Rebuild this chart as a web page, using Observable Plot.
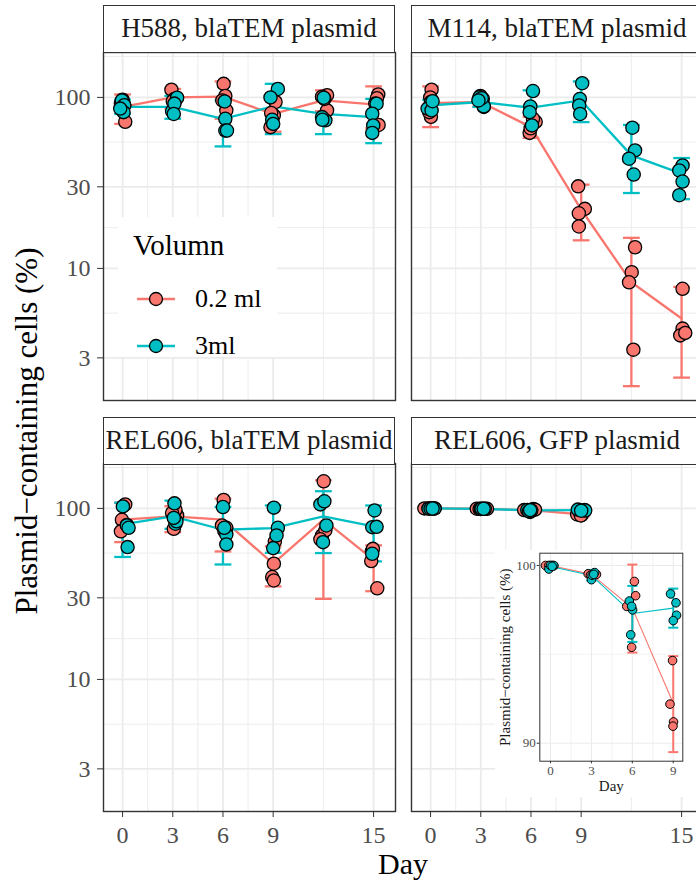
<!DOCTYPE html>
<html><head><meta charset="utf-8">
<script src="https://cdn.jsdelivr.net/npm/d3@7"></script>
<script src="https://cdn.jsdelivr.net/npm/@observablehq/plot@0.6"></script>
<style>
html,body{margin:0;padding:0;background:#fff;overflow:hidden;}
#wrap{position:relative;width:710px;height:883px;font-family:"Liberation Serif","Times New Roman",serif;overflow:hidden;}
#wrap svg{position:absolute;}
#wrap svg [aria-label="y-axis tick"], #wrap svg [aria-label="x-axis tick"]{stroke:#333;}
.strip{position:absolute;box-sizing:border-box;border:1.4px solid #333;background:#fff;color:#1a1a1a;font-size:27px;text-align:center;line-height:44px;white-space:nowrap;}
.txt{position:absolute;white-space:nowrap;color:#000;}
</style></head><body><div id="wrap"></div>
<script>
// ---------- categories & ticks ----------
const panels = ["H588, blaTEM plasmid", "M114, blaTEM plasmid", "REL606, blaTEM plasmid", "REL606, GFP plasmid"];
const volumes = ["0.2 ml", "3ml"];
const days = [0, 3, 6, 9, 12, 15];
const gfpDays = [0, 3, 6, 9];
const xTicks = [0, 3, 6, 9, 15];
const xMinor = [1.5, 4.5, 7.5, 12];
const yTicks = [3, 10, 30, 100];
const yMinor = [5.477, 17.32, 54.77, 173.2];
const insetXTicks = [0, 3, 6, 9];
const insetXMinor = [1.5, 4.5, 7.5];
const insetYTicks = [90, 100];
const insetYMinor = [95];

// ---------- replicate points: [day (as plotted, jittered), % plasmid-containing] ----------
const h588_02 = [[0.16,72],[-0.1,92],[0.0,97],[0.1,90],[2.92,111],[3.16,96],[3.1,98],[3.0,95],
  [6.04,120],[6.14,102],[6.2,84],[5.96,96],[8.84,67],[9.04,78.5],[9.14,94],[8.88,81],
  [12.22,103],[12.22,84],[12.06,98],[11.92,101],[15.28,104],[15.2,99],[15.1,92],[15.3,69]];
const h588_3 = [[-0.04,96],[0.1,90],[0.06,82],[-0.14,86],[3.26,99.6],[2.96,83],[3.1,92],[3.06,80],
  [6.1,94.7],[6.14,75],[6.14,64],[6.24,64],[9.28,112],[8.84,100],[8.94,74],[9.0,70],
  [12.02,99.6],[12.12,73.4],[11.92,76.7],[11.94,74],[15.18,91.8],[14.92,80.3],[14.98,68.6],[14.92,62]];
const m114_02 = [[0.06,111],[-0.02,100],[0.02,77],[-0.08,82],[3.12,98],[2.98,102],[3.06,95],[3.18,88],
  [5.92,62],[6.28,72],[6.12,75],[5.98,66],[8.82,30.2],[9.22,22.3],[8.86,21],[8.86,17.6],
  [12.22,13.3],[12.02,9.5],[11.86,8.3],[12.12,3.35],[15.06,7.6],[15.06,4.45],[14.92,4.06],[15.22,4.2]];
const m114_3 = [[0.02,94],[-0.18,86],[0.06,84],[0.12,95],[2.92,100.4],[3.18,88.6],[3.06,99],[2.86,96],
  [6.12,108.9],[5.96,88.6],[5.92,82],[6.06,68.6],[9.06,121],[8.92,98],[8.88,89.8],[8.94,80],
  [12.06,66.5],[12.22,49],[11.86,43.8],[12.14,35.4],[15.06,40],[14.86,37.4],[15.06,32.2],[14.86,26.8]];
const rel_02 = [[0.16,105.5],[-0.04,85.8],[-0.1,73.4],[0.26,80],[3.06,76],[3.26,91],[3.16,98],[2.96,94],
  [6.04,112],[5.94,79.5],[6.2,77],[6.08,74],[9.04,47.5],[8.94,39.7],[9.04,37.9],[9.1,64],
  [12.02,144],[11.92,69.5],[12.12,74.4],[11.82,66],[14.86,49.2],[15.22,34.1],[14.9,56],[14.96,58]];
const rel_3 = [[0.02,102.7],[0.26,79.5],[0.3,59.4],[0.36,77],[3.1,107],[3.16,81.4],[3.22,84],[3.06,88],
  [6.0,101.8],[6.2,70.4],[6.2,61.6],[6.08,77],[9.04,101],[9.28,77],[9.2,69.5],[9.0,58.6],
  [11.82,105.5],[12.06,110],[12.18,79.5],[11.98,63.5],[15.06,97.3],[14.92,77.7],[15.18,78],[14.92,54.3]];
const gfp_02 = [[-0.37,100],[0.12,100],[0.24,99.98],[-0.12,100],[2.76,99.53],[3.37,99.5],[3.17,99.55],[2.93,99.45],
  [5.59,97.7],[6.15,99.1],[6.24,98.3],[5.95,95.4],[8.76,92.2],[8.95,94.65],[9.02,91.2],[8.98,90.96]];
const gfp_3 = [[-0.12,99.8],[0.0,100],[0.24,100],[0.12,99.95],[3.0,99.2],[3.24,99.6],[3.05,99.45],[3.17,99.5],
  [5.78,98],[6.02,97.5],[5.88,96.1],[5.95,97.7],[8.8,98.4],[9.2,97.9],[9.24,97.2],[9.0,96.9]];

// ---------- summaries per day: mean, lower and upper error bar ----------
const h588_02_mean = [88, 100, 101, 80, 96, 91];
const h588_02_lo   = [70, 86, 75, 63, 83, 66];
const h588_02_hi   = [104, 112, 124, 98, 110, 116];
const h588_3_mean  = [88, 88, 75, 88.6, 80, 76.7];
const h588_3_lo    = [80, 75, 51.7, 61, 61, 54];
const h588_3_hi    = [97, 102, 96, 120, 99, 98];
const m114_02_mean = [92.6, 94, 67, 22.1, 8.3, 5.1];
const m114_02_lo   = [67, 88, 58, 14.6, 2.05, 2.3];
const m114_02_hi   = [116, 101, 77, 30.9, 15.1, 7.8];
const m114_3_mean  = [89.8, 94, 87, 96, 45.8, 35.8];
const m114_3_lo    = [83, 88, 70, 71.7, 27.6, 25.4];
const m114_3_hi    = [97, 101, 110, 124, 69, 44.2];
const rel_02_mean  = [86, 89.8, 86, 47.5, 86, 50];
const rel_02_lo    = [63.5, 72.6, 56, 35, 29.6, 32.8];
const rel_02_hi    = [108, 103, 114, 60, 146, 60.8];
const rel_3_mean   = [80.6, 89.8, 75, 76.7, 89.8, 78.4];
const rel_3_lo     = [52, 76, 47, 55, 54.8, 49];
const rel_3_hi     = [108, 111, 102, 104, 126, 104];
const gfp_02_mean  = [100, 99.5, 97.6, 92.25];
const gfp_02_lo    = [99.95, 99.4, 95.1, 89.5];
const gfp_02_hi    = [100, 99.6, 100.05, 94.9];
const gfp_3_mean   = [99.94, 99.44, 97.3, 97.6];
const gfp_3_lo     = [99.8, 99.15, 95.7, 96.5];
const gfp_3_hi     = [100.05, 99.75, 98.85, 98.7];

// ---------- build tables ----------
const COLORS = ["#F8766D", "#00BFC4"];
const pts = (a, b) => [...a.map(([day, pct]) => ({day, pct, vol: volumes[0]})),
                       ...b.map(([day, pct]) => ({day, pct, vol: volumes[1]}))];
const sm = (dd, m1, l1, h1, m2, l2, h2) => [
  ...dd.map((day, i) => ({day, mean: m1[i], lo: l1[i], hi: h1[i], vol: volumes[0]})),
  ...dd.map((day, i) => ({day, mean: m2[i], lo: l2[i], hi: h2[i], vol: volumes[1]}))];

const data = [
  {pts: pts(h588_02, h588_3), sm: sm(days, h588_02_mean, h588_02_lo, h588_02_hi, h588_3_mean, h588_3_lo, h588_3_hi)},
  {pts: pts(m114_02, m114_3), sm: sm(days, m114_02_mean, m114_02_lo, m114_02_hi, m114_3_mean, m114_3_lo, m114_3_hi)},
  {pts: pts(rel_02, rel_3), sm: sm(days, rel_02_mean, rel_02_lo, rel_02_hi, rel_3_mean, rel_3_lo, rel_3_hi)},
  {pts: pts(gfp_02, gfp_3), sm: sm(gfpDays, gfp_02_mean, gfp_02_lo, gfp_02_hi, gfp_3_mean, gfp_3_lo, gfp_3_hi)}
];

const FONT = "Liberation Serif, Times New Roman, serif";
const wrap = document.getElementById("wrap");

function mainPanel(d, showX, showY) {
  const ml = showY ? 103 : 4, mr = 4, mt = 4, mb = showX ? 66 : 4;
  return Plot.plot({
    width: ml + 292 + mr, height: mt + 348 + mb,
    marginLeft: ml, marginRight: mr, marginTop: mt, marginBottom: mb,
    style: {fontFamily: FONT, fontSize: "24px", color: "#4d4d4d", background: "transparent", overflow: "visible"},
    x: {domain: [-1.14, 16.31], ticks: xTicks, tickFormat: v => String(v), tickSize: 6, tickPadding: 8, label: null, axis: showX ? "bottom" : null},
    y: {type: "log", domain: [1.69, 183], ticks: yTicks, tickFormat: v => String(v), tickSize: 6, tickPadding: 7, label: null, axis: showY ? "left" : null},
    color: {domain: volumes, range: COLORS},
    marks: [
      Plot.ruleY(yMinor, {stroke: "#ebebeb", strokeWidth: 0.9}),
      Plot.ruleX(xMinor, {stroke: "#ebebeb", strokeWidth: 0.9}),
      Plot.ruleY(yTicks, {stroke: "#ebebeb", strokeWidth: 1.8}),
      Plot.ruleX(xTicks, {stroke: "#ebebeb", strokeWidth: 1.8}),
      Plot.ruleX(d.sm, {x: "day", y1: "lo", y2: "hi", stroke: "vol", strokeWidth: 2.3}),
      Plot.link(d.sm, {x1: r => r.day - 0.5, x2: r => r.day + 0.5, y1: "lo", y2: "lo", stroke: "vol", strokeWidth: 2.3}),
      Plot.link(d.sm, {x1: r => r.day - 0.5, x2: r => r.day + 0.5, y1: "hi", y2: "hi", stroke: "vol", strokeWidth: 2.3}),
      Plot.line(d.sm, {x: "day", y: "mean", z: "vol", stroke: "vol", strokeWidth: 2.3}),
      Plot.dot(d.pts, {x: "day", y: "pct", fill: "vol", stroke: "#000", strokeWidth: 1.3, r: 6.6}),
      Plot.frame({stroke: "#333", strokeWidth: 1.4})
    ]
  });
}

const layout = [
  {left: 0, top: 48, showX: false, showY: true},
  {left: 407, top: 48, showX: false, showY: false},
  {left: 0, top: 459, showX: true, showY: true},
  {left: 407, top: 459, showX: true, showY: false}
];
layout.forEach((L, i) => {
  const svg = mainPanel(data[i], L.showX, L.showY);
  svg.style.left = L.left + "px";
  svg.style.top = L.top + "px";
  wrap.appendChild(svg);
});

// strips
const stripPos = [[103, 5], [411, 5], [103, 417], [411, 417]];
panels.forEach((p, i) => {
  const s = document.createElement("div");
  s.className = "strip";
  s.style.left = stripPos[i][0] + "px";
  s.style.top = stripPos[i][1] + "px";
  s.style.width = "292px";
  s.style.height = "48px";
  s.textContent = p;
  wrap.appendChild(s);
});

// legend (inside first panel)
const lg = document.createElement("div");
lg.style.cssText = "position:absolute;left:118px;top:217px;width:159px;height:140px;background:#fff;";
const lt = document.createElement("div");
lt.className = "txt";
lt.style.cssText += "left:15px;top:14px;font-size:29px;line-height:29px;";
lt.textContent = "Volumn";
lg.appendChild(lt);
volumes.forEach((v, i) => {
  const cy = 82 + i * 47;
  const key = document.createElementNS("http://www.w3.org/2000/svg", "svg");
  key.setAttribute("width", 40); key.setAttribute("height", 20);
  key.style.cssText = `position:absolute;left:19px;top:${cy - 10}px;`;
  key.innerHTML = `<line x1="0" x2="38" y1="10" y2="10" stroke="${COLORS[i]}" stroke-width="2.5"/>` +
    `<circle cx="19" cy="10" r="6.5" fill="${COLORS[i]}" stroke="#000" stroke-width="1.3"/>`;
  lg.appendChild(key);
  const t = document.createElement("div");
  t.className = "txt";
  t.style.cssText += `left:77px;top:${cy - 13}px;font-size:26px;line-height:26px;`;
  t.textContent = v;
  lg.appendChild(t);
});
wrap.appendChild(lg);

// inset
const insetData = data[3];
const inset = Plot.plot({
  width: 215, height: 247,
  marginLeft: 44.3, marginRight: 27.7, marginTop: 2.7, marginBottom: 36.3,
  style: {fontFamily: FONT, fontSize: "13px", color: "#4d4d4d", background: "#fff", overflow: "visible"},
  x: {domain: [-0.785, 9.70], ticks: insetXTicks, tickFormat: v => String(v), tickSize: 2.6, tickPadding: 1.5, label: null},
  y: {domain: [88.99, 100.69], ticks: insetYTicks, tickFormat: v => String(v), tickSize: 2.6, tickPadding: 1.5, label: null},
  color: {domain: volumes, range: COLORS},
  marks: [
    Plot.ruleY(insetYMinor, {stroke: "#ebebeb", strokeWidth: 0.6}),
    Plot.ruleX(insetXMinor, {stroke: "#ebebeb", strokeWidth: 0.6}),
    Plot.ruleY(insetYTicks, {stroke: "#ebebeb", strokeWidth: 1.1}),
    Plot.ruleX(insetXTicks, {stroke: "#ebebeb", strokeWidth: 1.1}),
    Plot.ruleX(insetData.sm, {x: "day", y1: "lo", y2: "hi", stroke: "vol", strokeWidth: 2}),
    Plot.link(insetData.sm, {x1: r => r.day - 0.37, x2: r => r.day + 0.37, y1: "lo", y2: "lo", stroke: "vol", strokeWidth: 2}),
    Plot.link(insetData.sm, {x1: r => r.day - 0.37, x2: r => r.day + 0.37, y1: "hi", y2: "hi", stroke: "vol", strokeWidth: 2}),
    Plot.line(insetData.sm, {x: "day", y: "mean", z: "vol", stroke: "vol", strokeWidth: 1.1}),
    Plot.dot(insetData.pts, {x: "day", y: "pct", fill: "vol", stroke: "#000", strokeWidth: 1, r: 4.3}),
    Plot.frame({stroke: "#333", strokeWidth: 1}),
    Plot.text(["Plasmid\u2212containing cells (%)"], {text: t => t, frameAnchor: "left", textAnchor: "middle", lineAnchor: "middle", rotate: -90, dx: -34.3, fontSize: 15, fill: "#1a1a1a"}),
    Plot.text(["Day"], {text: t => t, frameAnchor: "bottom", textAnchor: "middle", lineAnchor: "middle", dy: 25, fontSize: 15, fill: "#1a1a1a"})
  ]
});
inset.style.left = "495px";
inset.style.top = "550px";
wrap.appendChild(inset);

// axis titles
const yt = document.createElement("div");
yt.className = "txt";
yt.style.cssText += "left:-273px;top:411px;width:600px;height:40px;line-height:40px;font-size:31px;text-align:center;transform:rotate(-90deg);color:#000;";
yt.textContent = "Plasmid\u2212containing cells (%)";
wrap.appendChild(yt);
const xt = document.createElement("div");
xt.className = "txt";
xt.style.cssText += "left:0px;top:844px;width:806px;height:40px;line-height:40px;font-size:30px;text-align:center;color:#000;";
xt.textContent = "Day";
wrap.appendChild(xt);
</script></body></html>
